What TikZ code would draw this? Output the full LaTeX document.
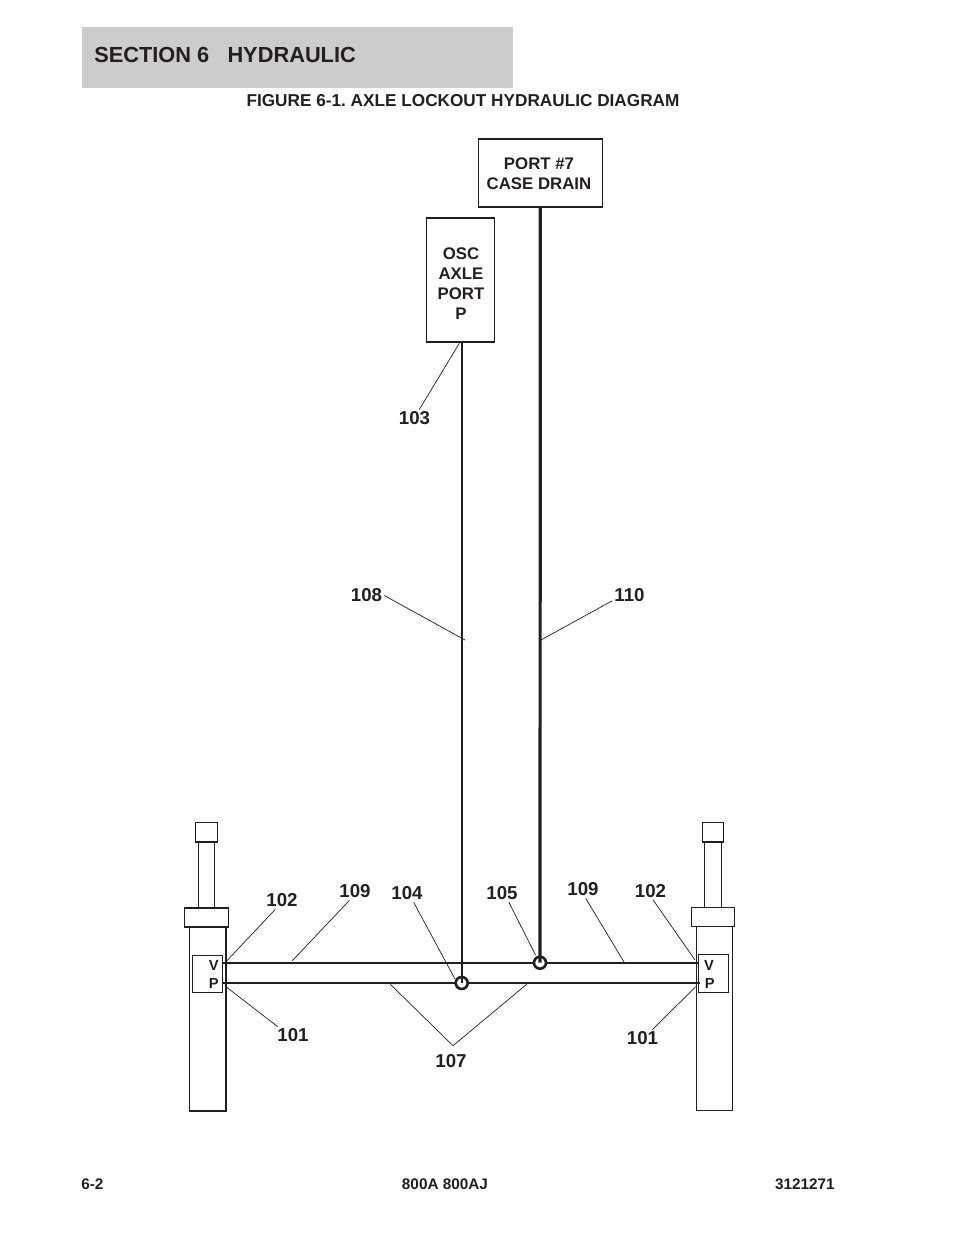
\documentclass[tikz,border=0pt]{standalone}
\usepackage{fontspec}
\setmainfont{Liberation Sans}
\frenchspacing
\usetikzlibrary{positioning}
\definecolor{ink}{HTML}{231F20}
\definecolor{band}{HTML}{CCCCCC}
\def \tu {0.75pt}
\tikzstyle{part} = [draw=ink,line width=1.1*\tu,inner sep=0,outer sep=0]
\tikzstyle{boxtext} = [text=ink,align=center,inner sep=0,font=\bfseries\fontsize{12.6}{15}\selectfont]
\tikzstyle{callout} = [text=ink,inner sep=2*\tu,font=\bfseries\fontsize{14}{16}\selectfont]
\tikzstyle{portmark} = [text=ink,inner sep=0,font=\bfseries\fontsize{11}{13}\selectfont]
\tikzstyle{footer} = [text=ink,inner sep=0,font=\bfseries\fontsize{11.5}{13}\selectfont]
\tikzstyle{tee} = [draw=ink,circle,line width=2.6*\tu,fill=white,inner sep=0,minimum size=12*\tu]
\tikzstyle{hose} = [-,ink,line width=2*\tu]
\tikzstyle{drain} = [-,ink,line width=3.2*\tu]
\tikzstyle{leader} = [-,ink,line width=0.7*\tu]

\begin{document}
\begin{tikzpicture}[x=0.75pt,y=-0.75pt,node distance=0]
  \useasboundingbox (0,0) rectangle (954,1235);
  % heading
  \fill[band] (82,27) rectangle (513,88);
  \node[text=ink,inner sep=0,anchor=west,font=\bfseries\fontsize{16.35}{18}\selectfont] (section) at (94,55) {SECTION 6\ \ \ HYDRAULIC};
  \node[text=ink,inner sep=0,font=\bfseries\fontsize{12.9}{15}\selectfont] (caption) at (463,101) {FIGURE 6-1. AXLE LOCKOUT HYDRAULIC DIAGRAM};

  % boxes at the top
  \node[part,minimum width=123.5*\tu,minimum height=68*\tu] (port) at (540.3,173) {};
  \node[boxtext] (porttext) at (539,174) {PORT \#7\\CASE DRAIN};
  \node[part,minimum width=68*\tu,minimum height=124*\tu] (osc) at (460.5,280) {};
  \node[boxtext] (osctext) at (461,284) {OSC\\AXLE\\PORT\\P};
  \draw[hose] (osc.south west) -- (osc.south east);

  % left cylinder
  \node[part,line width=1.5*\tu,minimum width=36.7*\tu,minimum height=184*\tu] (bodyl) at (207.6,1019) {};
  \node[part,minimum width=44*\tu,minimum height=19*\tu,above=of bodyl,xshift=-1.3*\tu] (headl) {};
  \node[part,minimum width=16*\tu,minimum height=66*\tu,above=of headl] (rodl) {};
  \node[part,minimum width=21.7*\tu,minimum height=19.7*\tu,above=of rodl] (capl) {};
  \node[part,minimum width=30*\tu,minimum height=37.4*\tu] (vpl) at (207.3,974) {};
  \node[portmark] (vl) at (213.7,965.3) {V};
  \node[portmark] (pl) at (213.7,983.7) {P};

  % right cylinder
  \node[part,minimum width=36.3*\tu,minimum height=184*\tu] (bodyr) at (714.2,1018.3) {};
  \node[part,minimum width=42.6*\tu,minimum height=19*\tu,above=of bodyr,xshift=-1.2*\tu] (headr) {};
  \node[part,minimum width=16.4*\tu,minimum height=65.3*\tu,above=of headr] (rodr) {};
  \node[part,minimum width=21*\tu,minimum height=19.3*\tu,above=of rodr] (capr) {};
  \node[part,minimum width=30*\tu,minimum height=38*\tu] (vpr) at (713.3,973.3) {};
  \node[portmark] (vr) at (709,965.3) {V};
  \node[portmark] (pr) at (709.7,983.7) {P};

  % hoses
  \coordinate (vla) at (223,963);
  \coordinate (pla) at (223,983);
  \coordinate (vra) at (697.7,963);
  \coordinate (pra) at (700,983);
  \draw[hose] (vla) -- (vra);
  \draw[hose] (pla) -- (pra);
  \node[tee] (teea) at (461.7,983) {};
  \node[tee] (teeb) at (540,962.7) {};
  \coordinate (osctop) at (461.7,343);
  \draw[hose] (osctop) -- (teea.center);
  \draw[drain] (port.south) -- (teeb.center);

  % part numbers
  \node[callout] (n103) at (414.5,418.5) {103};
  \node[callout] (n108) at (366.5,595.5) {108};
  \node[callout] (n110) at (629.5,595.5) {110};
  \node[callout] (n102l) at (282,900.5) {102};
  \node[callout] (n109l) at (355,891.5) {109};
  \node[callout] (n104) at (407,893.5) {104};
  \node[callout] (n105) at (502,893.5) {105};
  \node[callout] (n109r) at (583,889.5) {109};
  \node[callout] (n102r) at (650.5,891) {102};
  \node[callout] (n101l) at (293,1035.5) {101};
  \node[callout] (n101r) at (642.5,1038.5) {101};
  \node[callout] (n107) at (451,1061.5) {107};

  % leader ends
  \coordinate (t103) at (459.3,343.3);
  \coordinate (t108) at (465,640);
  \coordinate (t110) at (541,640);
  \coordinate (t102l) at (226,961.7);
  \coordinate (t109l) at (292.3,960.7);
  \coordinate (t104) at (455,979);
  \coordinate (t105) at (535.7,955.3);
  \coordinate (t109r) at (624,962);
  \coordinate (t102r) at (695,960);
  \coordinate (t101l) at (226,986.7);
  \coordinate (t101r) at (695.7,986.7);
  \coordinate (t107a) at (390,984);
  \coordinate (t107b) at (527,984);
  \coordinate (apex) at (453,1045.7);

  \draw[leader] (n103.62) -- (t103);
  \draw[leader] (n108.east) -- (t108);
  \draw[leader] (n110.197) -- (t110);
  \draw[leader] (n102l.233) -- (t102l);
  \draw[leader] (n109l.238) -- (t109l);
  \draw[leader] (n104.307) -- (t104);
  \draw[leader] (n105.308) -- (t105);
  \draw[leader] (n109r.287) -- (t109r);
  \draw[leader] (n102r.286) -- (t102r);
  \draw[leader] (n101l.150) -- (t101l);
  \draw[leader] (n101r.42) -- (t101r);
  \draw[leader] (t107a) -- (apex) -- (t107b);

  % footer
  \node[footer,anchor=west] (page) at (81,1184.5) {6-2};
  \node[footer] (model) at (445,1184.5) {800A 800AJ};
  \node[footer,anchor=east] (docno) at (835,1184.5) {3121271};
\end{tikzpicture}
\end{document}
